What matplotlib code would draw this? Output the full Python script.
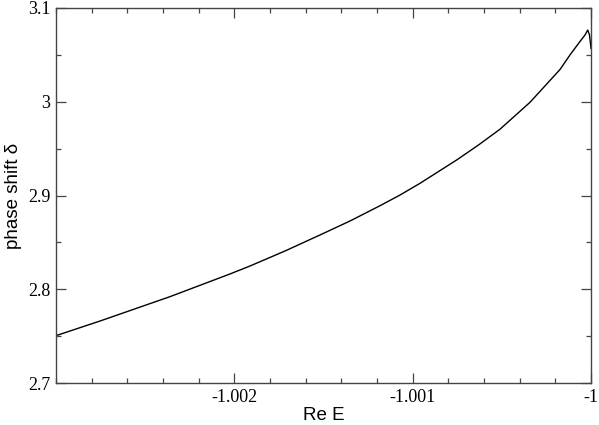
import matplotlib
matplotlib.use("Agg")
import matplotlib.pyplot as plt
from matplotlib.ticker import FixedLocator, FuncFormatter, MultipleLocator

# data
re_e = [-1.0030000, -1.0027533, -1.0023607, -1.0020243, -1.0019121, -1.0017159,
        -1.0015196, -1.0013514, -1.0011832, -1.0010710, -1.0009589, -1.0007531,
        -1.0006336, -1.0005103, -1.0003421, -1.0001738, -1.0001180,
        -1.0000618, -1.0000337, -1.0000185, -1.0000084, -1.0000000]
phase = [2.7505, 2.7661, 2.7921, 2.8163, 2.8248, 2.8408,
         2.8579, 2.8728, 2.8891, 2.9005, 2.9130, 2.9379,
         2.9535, 2.9707, 2.9994, 3.0344, 3.0499,
         3.0643, 3.0712, 3.0765, 3.0712, 3.0570]
x_ticks = [-1.002, -1.001, -1.0]
y_ticks = [2.7, 2.8, 2.9, 3.0, 3.1]

fig = plt.figure(figsize=(5.99, 4.25), dpi=100)
ax = fig.add_axes([56/599, 42/425, 535/599, 375/425])

ax.plot(re_e, phase, color="black", linewidth=1.0)

ax.set_xlim(-1.003, -1.0)
ax.set_ylim(2.7, 3.1)
ax.xaxis.set_major_locator(FixedLocator(x_ticks))
ax.yaxis.set_major_locator(FixedLocator(y_ticks))
ax.xaxis.set_minor_locator(MultipleLocator(0.0002))
ax.yaxis.set_minor_locator(MultipleLocator(0.05))
fmt = FuncFormatter(lambda v, p: "%g" % round(v, 6))
ax.xaxis.set_major_formatter(fmt)
ax.yaxis.set_major_formatter(fmt)

ax.tick_params(which="both", direction="in", top=True, right=True, color="#444444")
ax.tick_params(which="major", length=7.5, width=0.9, labelsize=13, pad=4)
ax.tick_params(which="minor", length=3.8, width=0.9)
for lab in ax.get_xticklabels() + ax.get_yticklabels():
    lab.set_fontfamily("Liberation Serif")
for s in ax.spines.values():
    s.set_color("#444444")
    s.set_linewidth(1.0)

ax.set_xlabel("Re E", fontsize=13.5, family="Liberation Sans", labelpad=1)
ax.set_ylabel("phase shift δ", fontsize=13.5, family="Liberation Sans", labelpad=4)

fig.savefig("out.png", dpi=100)
